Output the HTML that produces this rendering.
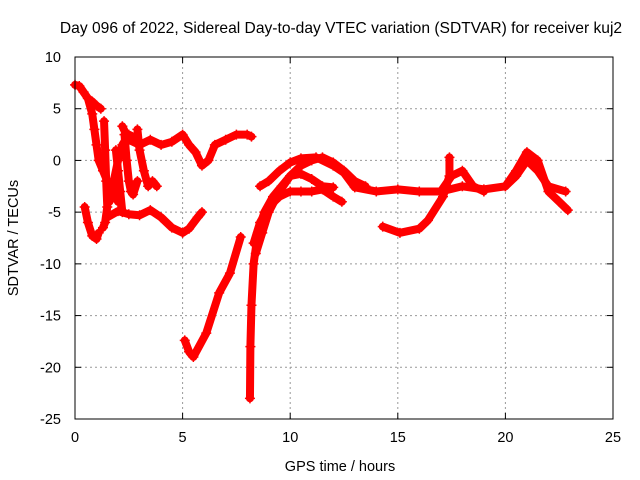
<!DOCTYPE html>
<html><head><meta charset="utf-8"><style>
body{margin:0;background:#fff}
svg{display:block;font-family:"Liberation Sans",sans-serif}
</style></head><body>
<svg id="c" width="640" height="480">
<text x="341" y="33" font-size="15.6" text-anchor="middle">Day 096 of 2022, Sidereal Day-to-day VTEC variation (SDTVAR) for receiver kuj2</text>
<text x="340" y="471" font-size="14.5" text-anchor="middle">GPS time / hours</text>
<text transform="translate(18,238) rotate(-90)" font-size="14.5" text-anchor="middle">SDTVAR / TECUs</text>
<g id="grid"></g><g id="marks"></g><g id="axes"></g>
</svg>
<script>
const xTicks=[0,5,10,15,20,25];
const yTicks=[10,5,0,-5,-10,-15,-20,-25];
const track1=[[0,7.3],[0.2,7.2],[0.4,6.6],[0.6,6.0],[0.8,5.7],[1.0,5.3],[1.2,5.0]];
const track2=[[0.6,6.0],[0.8,4.5],[0.9,3],[1.0,1.5],[1.1,0],[1.3,-1],[1.5,-2],[1.8,-3],[2.0,-4]];
const track3=[[1.35,3.8],[1.4,1],[1.45,-2],[1.5,-4.5],[1.4,-6],[1.3,-6.5]];
const track4=[[0.45,-4.5],[0.6,-6],[0.8,-7.3],[1.0,-7.6],[1.1,-7]];
const track5=[[1.5,-5.5],[2,-4.9],[2.5,-5.2],[3,-5.3],[3.5,-4.8],[4,-5.5],[4.5,-6.5],[5,-7],[5.3,-6.6],[5.7,-5.5],[5.9,-5]];
const track6=[[2.2,3.3],[2.5,2],[3,1.5],[3.5,2],[4,1.5],[4.5,1.8],[5,2.5],[5.3,1.5],[5.6,0.8],[5.9,-0.5],[6.2,0],[6.5,1.5],[7,2],[7.5,2.5],[8,2.5],[8.2,2.3]];
const track7=[[1.9,1],[2.0,-1],[2.1,-3],[2.2,-5]];
const track8=[[2.9,3],[3.0,1],[3.2,-1],[3.4,-2.5],[3.6,-2],[3.8,-2.5]];
const track9=[[2.3,2.5],[2.4,0],[2.5,-2],[2.6,-3],[2.7,-3.3],[2.9,-2]];
const track18=[[1.6,-4],[1.8,-2],[2.0,0],[2.2,1.5],[2.5,2.5],[2.8,2.2]];
const track10=[[5.1,-17.4],[5.3,-18.5],[5.5,-19],[6.1,-16.7],[6.7,-12.8],[7.2,-10.9],[7.7,-7.4]];
const track11=[[8.13,-23],[8.15,-18],[8.2,-14],[8.3,-10],[8.5,-7],[8.8,-5],[9.2,-3.5],[9.6,-2.5],[10,-1.5],[10.5,-0.5],[11,0],[11.5,0.3],[12,-0.2],[12.5,-1],[13,-2],[13.5,-2.5]];
const track12=[[8.3,-8],[8.6,-6],[9,-4.5],[9.5,-3.5],[10,-3],[10.5,-3],[11,-3],[11.5,-2.8],[12,-3.5],[12.4,-4]];
const track13=[[8.4,-9],[8.7,-7],[9,-5],[9.5,-3],[10,-1.5],[10.5,-1.3],[11,-1.8],[11.5,-2.5],[12,-2.6]];
const track14=[[8.6,-2.5],[9,-2],[9.5,-1],[10,-0.2],[10.5,0.2],[11.2,0.3],[12,-0.5],[12.5,-1.2],[13,-2.6],[14,-3],[15,-2.8],[16,-3],[17,-3],[18,-2.5],[19,-2.8],[20,-2.5],[20.5,-1],[21,0.8],[21.5,0],[22,-3],[22.5,-4],[22.9,-4.8]];
const track15=[[14.3,-6.4],[15.1,-7],[16,-6.6],[16.4,-5.8],[17.1,-3.5],[17.4,-1.5],[17.4,0.3]];
const track16=[[17,-3],[17.5,-1.5],[18,-1],[18.5,-2.5],[19,-3]];
const track17=[[20,-2.5],[20.5,-1.5],[21,0],[21.5,-1],[22,-2.5],[22.8,-3]];
const tracks=[track1,track2,track3,track4,track5,track6,track7,track8,track9,track18,track10,track11,track12,track13,track14,track15,track16,track17];
const X=h=>75+h*(538/25), Y=v=>57+(10-v)*(362/35);
const NS="http://www.w3.org/2000/svg";
const mk=(p,t,a)=>{const e=document.createElementNS(NS,t);for(const k in a)e.setAttribute(k,a[k]);p.appendChild(e);return e;};
const grid=document.getElementById('grid'),axes=document.getElementById('axes'),marks=document.getElementById('marks');
xTicks.forEach(t=>{
 if(t>0&&t<25){const g=mk(grid,'line',{x1:X(t),x2:X(t),y1:57,y2:419,stroke:'#999','stroke-dasharray':'2,3'});
 
 }
 const l=mk(axes,'text',{x:X(t),y:442,'font-size':14.5,'text-anchor':'middle'});l.textContent=t;
 
 
 mk(axes,'line',{x1:X(t),x2:X(t),y1:419,y2:413,stroke:'#000'});mk(axes,'line',{x1:X(t),x2:X(t),y1:57,y2:63,stroke:'#000'});
});
yTicks.forEach(t=>{
 if(t<10&&t>-25){const g=mk(grid,'line',{x1:75,x2:613,y1:Y(t),y2:Y(t),stroke:'#999','stroke-dasharray':'2,3'});
 
 }
 const l=mk(axes,'text',{x:61,y:Y(t)+5,'font-size':14.5,'text-anchor':'end'});l.textContent=t;
 
 
 mk(axes,'line',{x1:75,x2:81,y1:Y(t),y2:Y(t),stroke:'#000'});mk(axes,'line',{x1:613,x2:607,y1:Y(t),y2:Y(t),stroke:'#000'});
});
const fr=mk(axes,'rect',{x:75,y:57,width:538,height:362,fill:'none',stroke:'#000'});


tracks.forEach((tr,i)=>{
 const pl=mk(marks,'polyline',{points:tr.map(p=>X(p[0])+','+Y(p[1])).join(' '),fill:'none',stroke:'#f00','stroke-width':8,'stroke-linejoin':'round','stroke-linecap':'round'});
 
 
 tr.forEach(p=>{const x=X(p[0]),y=Y(p[1]);
  const m=mk(marks,'path',{d:`M${x-5},${y}h10M${x},${y-5}v10`,stroke:'#f00','stroke-width':1.5});
  
  });
});
</script>
</body></html>
